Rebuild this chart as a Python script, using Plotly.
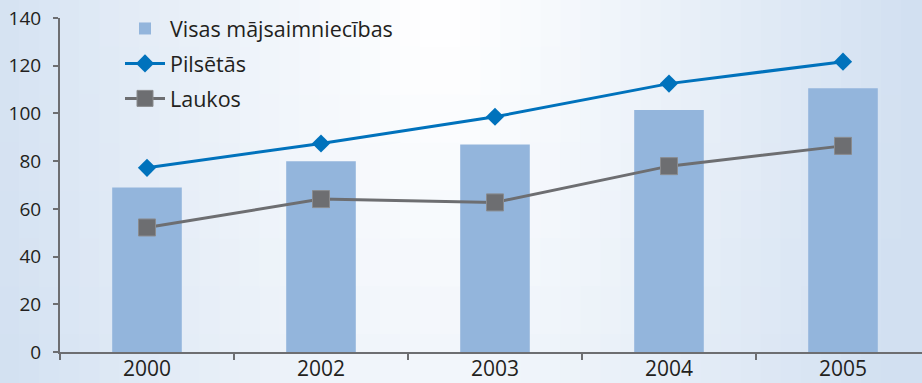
import plotly.graph_objects as go

years = ["2000", "2002", "2003", "2004", "2005"]
visas = [69, 80, 87, 101.4, 110.6]
pilsetas = [77.2, 87.4, 98.6, 112.5, 121.7]
laukos = [52.2, 64.1, 62.7, 77.9, 86.4]

W, H = 922, 383
ML, MR, MT, MB = 60, 0, 18, 31
PW, PH = W - ML - MR, H - MT - MB

fig = go.Figure()

# background gradient (white near top centre, light blue towards the edges)
edge = (210, 224, 241)
nx, ny = 46, 8
for i in range(nx):
    for j in range(ny):
        cx = (i + 0.5) / nx * W
        cy = (j + 0.5) / ny * H
        dx = (cx - 440) / 470
        dy = cy / 1100
        t = min(1.0, (dx * dx + dy * dy) ** 0.5) ** 1.1
        c = tuple(int(round(255 + (e - 255) * t)) for e in edge)
        fig.add_shape(type="rect", xref="paper", yref="paper",
                      x0=(i / nx * W - ML) / PW - 0.001,
                      x1=((i + 1) / nx * W - ML) / PW + 0.001,
                      y0=(H - MB - (j + 1) / ny * H) / PH - 0.003,
                      y1=(H - MB - j / ny * H) / PH + 0.003,
                      fillcolor="rgb(%d,%d,%d)" % c, line=dict(width=0), layer="below")

fig.add_trace(go.Bar(x=years, y=visas, name="Visas mājsaimniecības",
                     marker=dict(color="#93b5dc", line=dict(width=0)), width=0.4,
                     legendgroup="a"))
fig.add_trace(go.Scatter(x=years, y=pilsetas, name="Pilsētās", mode="lines+markers",
                         line=dict(color="#0072bc", width=3),
                         marker=dict(symbol="diamond", size=14, color="#0072bc"),
                         legendgroup="b"))
fig.add_trace(go.Scatter(x=years, y=laukos, name="Laukos", mode="lines+markers",
                         line=dict(color="#6d6e71", width=3),
                         marker=dict(symbol="square", size=17, color="#6d6e71",
                                     line=dict(color="#8a8b8e", width=1)),
                         legendgroup="c"))

fig.update_layout(
    width=W, height=H,
    margin=dict(l=ML, r=MR, t=MT, b=MB, pad=0, autoexpand=False),
    paper_bgcolor="rgb(210,224,241)",
    plot_bgcolor="rgba(0,0,0,0)",
    font=dict(family="Open Sans", size=19, color="#231f20"),
    showlegend=True,
    legend=dict(xref="paper", yref="paper", x=(120 - ML) / PW, y=(H - MB - 8) / PH,
                xanchor="left", yanchor="top", bgcolor="rgba(0,0,0,0)",
                tracegroupgap=4, itemwidth=40, font=dict(size=21.5)),
)
fig.update_xaxes(type="category", range=[-0.5, 4.454], showline=True, linecolor="#6d6e71",
                 linewidth=2, ticks="outside", tickson="boundaries", ticklen=6,
                 tickwidth=2, tickcolor="#6d6e71", showgrid=False, zeroline=False,
                 tickfont=dict(size=21), ticklabelstandoff=-3, fixedrange=True)
fig.update_yaxes(range=[0, 140], dtick=20, showline=True, linecolor="#6d6e71",
                 linewidth=2, ticks="outside", ticklen=5, tickwidth=2,
                 tickcolor="#6d6e71", showgrid=False, zeroline=False,
                 ticklabelstandoff=8, fixedrange=True)

fig.write_html("out.html", config={"displayModeBar": False},
               post_script="document.body.style.margin='0px';")
